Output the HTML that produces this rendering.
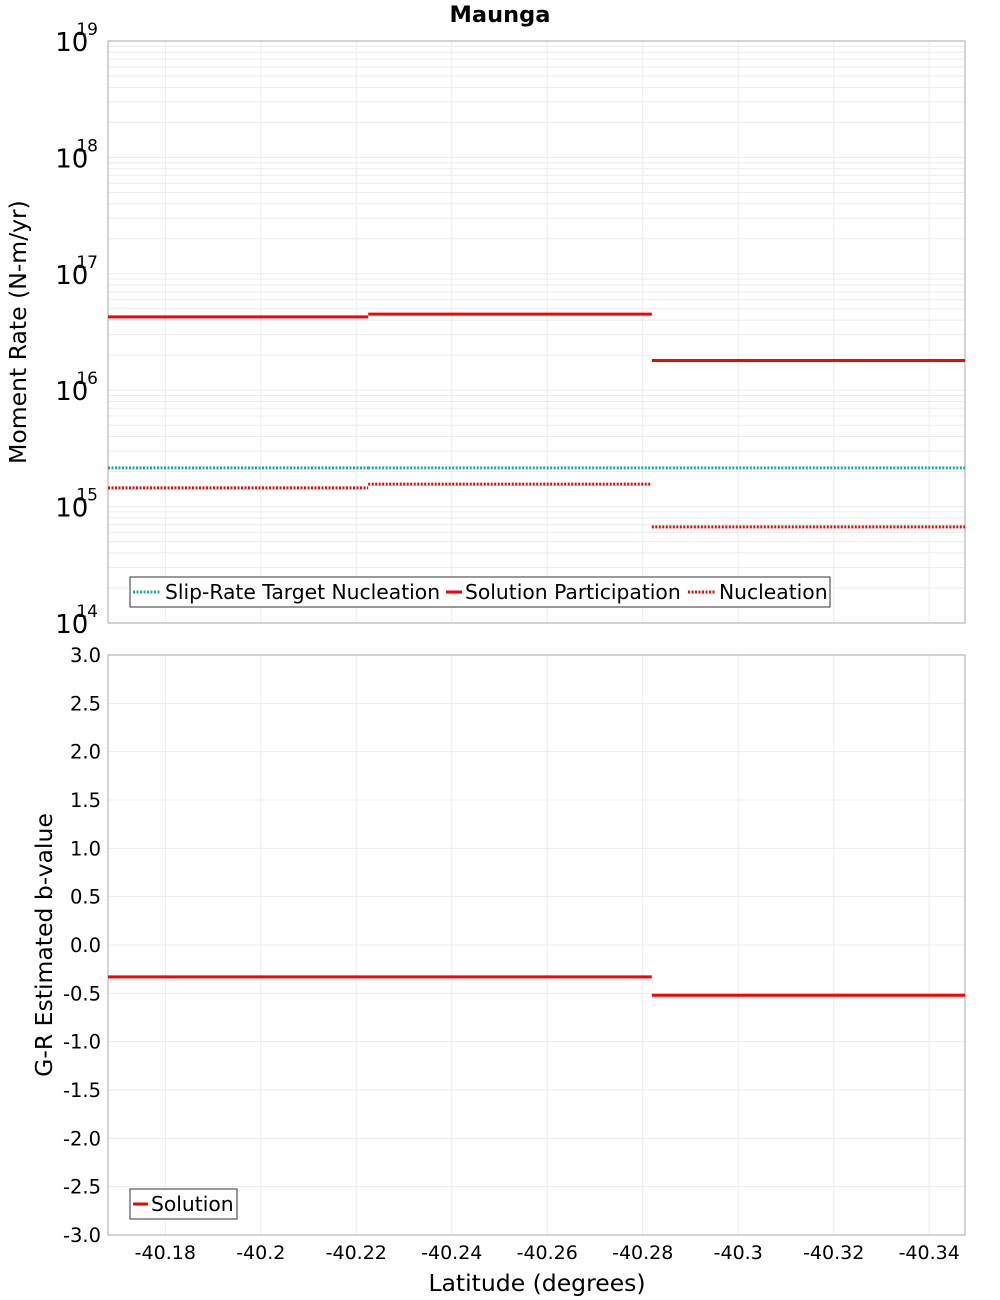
<!DOCTYPE html>
<html><head><meta charset="utf-8"><style>
body{margin:0;background:#fff;font-family:"DejaVu Sans","Liberation Sans",sans-serif}
svg{display:block}
</style></head><body>
<svg id="c" width="1000" height="1300" xmlns="http://www.w3.org/2000/svg"></svg>
<script>
const xTicks=[-40.18,-40.2,-40.22,-40.24,-40.26,-40.28,-40.3,-40.32,-40.34];
const segStart=[-40.168,-40.2225,-40.2819];
const segEnd=[-40.2225,-40.2819,-40.3475];
const participation=[4.26e16,4.5e16,1.8e16];
const nucleation=[1.45e15,1.56e15,6.7e14];
const target=[2.15e15,2.15e15,2.15e15];
const bStart=[-40.168,-40.2819];
const bEnd=[-40.2819,-40.3475];
const bValues=[-0.33,-0.52];
const bTicks=[3.0,2.5,2.0,1.5,1.0,0.5,0.0,-0.5,-1.0,-1.5,-2.0,-2.5,-3.0];
const logTicks=[14,15,16,17,18,19];

const NS="http://www.w3.org/2000/svg";
const svg=document.getElementById('c');
const L=108,R=965,T1=41,B1=623,T2=655,B2=1235;
const xMin=-40.168,xMax=-40.3475;
function xs(v){return L+(v-xMin)/(xMax-xMin)*(R-L);}
function y1(v){return B1-(Math.log10(v)-14)/5*(B1-T1);}
function y2(v){return B2-(v+3)/6*(B2-T2);}
function mk(tag,attrs,parent){const e=document.createElementNS(NS,tag);for(const k in attrs)e.setAttribute(k,attrs[k]);(parent||svg).appendChild(e);return e;}
function txt(s,attrs){const e=mk('text',attrs);e.textContent=s;return e;}

for(let d=14;d<19;d++)for(let m=1;m<10;m++){const y=y1(m*Math.pow(10,d));
 const g=mk('line',{x1:L,x2:R,y1:y,y2:y,stroke:'#ececec','stroke-width':1});
 }
for(const t of bTicks){const y=y2(t);const g=mk('line',{x1:L,x2:R,y1:y,y2:y,stroke:'#ececec'});
 }
for(const t of xTicks){const x=xs(t);
 const g=mk('line',{x1:x,x2:x,y1:T1,y2:B1,stroke:'#ececec'});
 const g2=mk('line',{x1:x,x2:x,y1:T2,y2:B2,stroke:'#ececec'});
 const tl=txt(String(t),{x:x,y:1259,'font-size':19,'text-anchor':'middle'});}
const f1=mk('rect',{x:L,y:T1,width:R-L,height:B1-T1,fill:'none',stroke:'#aaa'});
const f2=mk('rect',{x:L,y:T2,width:R-L,height:B2-T2,fill:'none',stroke:'#aaa'});
for(const d of logTicks){const y=y1(Math.pow(10,d));
 const t=mk('text',{x:98,y:y+10,'font-size':26,'text-anchor':'end'});
 t.textContent='10';const s=mk('tspan',{dy:-16,'font-size':17,dx:-12},t);s.textContent=String(d);}
for(const b of bTicks){const tl=txt(b.toFixed(1),{x:101,y:y2(b)+7,'font-size':19.5,'text-anchor':'end'});}
function seg(x1,x2,y,col,dash,name){const l=mk('line',{x1:x1,x2:x2,y1:y,y2:y,stroke:col,'stroke-width':3});if(dash)l.setAttribute('stroke-dasharray','2,1.5');
 }
for(let i=0;i<target.length;i++)seg(xs(segStart[i]),xs(segEnd[i]),y1(target[i]),'#1fa5a5',true,'target-nucleation-segment');
for(let i=0;i<nucleation.length;i++)seg(xs(segStart[i]),xs(segEnd[i]),y1(nucleation[i]),'#f00',true,'nucleation-segment');
for(let i=0;i<participation.length;i++)seg(xs(segStart[i]),xs(segEnd[i]),y1(participation[i]),'#f00',false,'participation-segment');
for(let i=0;i<bValues.length;i++)seg(xs(bStart[i]),xs(bEnd[i]),y2(bValues[i]),'#f00',false,'bvalue-segment');
let t=txt('Maunga',{x:500,y:22,'font-size':22.5,'font-weight':'bold','text-anchor':'middle'});
t=txt('Moment Rate (N-m/yr)',{x:0,y:0,'font-size':23.5,'text-anchor':'middle',transform:'translate(26,332) rotate(-90)'});
t=txt('G-R Estimated b-value',{x:0,y:0,'font-size':23.5,'text-anchor':'middle',transform:'translate(52,945) rotate(-90)'});
t=txt('Latitude (degrees)',{x:537,y:1291,'font-size':23.5,'text-anchor':'middle'});
let lg=mk('rect',{x:130,y:577,width:700,height:30,fill:'#fff',stroke:'#333'});
function entry(x,w,tx,y,col,dash,label){seg(x,x+w,y,col,dash,'legend-swatch');const e=txt(label,{x:tx,y:y+7,'font-size':20.3});}
entry(133,27,165,592,'#1fa5a5',true,'Slip-Rate Target Nucleation');
entry(446,16,465,592,'#f00',false,'Solution Participation');
entry(688,28,719,592,'#f00',true,'Nucleation');
lg=mk('rect',{x:130,y:1189,width:107,height:30,fill:'#fff',stroke:'#333'});
entry(133,15,151,1204,'#f00',false,'Solution');
</script>
</body></html>
